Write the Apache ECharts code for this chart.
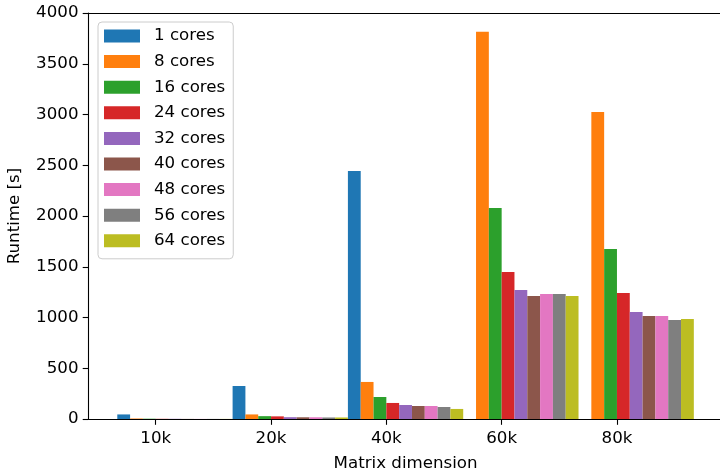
<!DOCTYPE html>
<html>
<head>
<meta charset="utf-8">
<script src="https://cdn.jsdelivr.net/npm/echarts@6/dist/echarts.min.js"></script>
<style>html,body{margin:0;padding:0;background:#fff;overflow:hidden}#c{width:730px;height:470px}</style>
</head>
<body>
<div id="c"></div>
<script>
const categories = ['10k', '20k', '40k', '60k', '80k'];
const coreNames = ['1 cores', '8 cores', '16 cores', '24 cores', '32 cores', '40 cores', '48 cores', '56 cores', '64 cores'];
const colors = ['#1f77b4', '#ff7f0e', '#2ca02c', '#d62728', '#9467bd', '#8c564b', '#e377c2', '#7f7f7f', '#bcbd22'];
const cores1  = [45, 325, 2443, null, null];
const cores8  = [5, 45, 365, 3815, 3025];
const cores16 = [3, 28, 217, 2079, 1675];
const cores24 = [2, 26, 158, 1448, 1241];
const cores32 = [2, 18, 138, 1271, 1054];
const cores40 = [1, 17, 128, 1212, 1015];
const cores48 = [1, 17, 128, 1232, 1015];
const cores56 = [1, 15, 118, 1232, 975];
const cores64 = [1, 15, 99, 1212, 985];
const yTicks = [0, 500, 1000, 1500, 2000, 2500, 3000, 3500, 4000];

const allSeries = [cores1, cores8, cores16, cores24, cores32, cores40, cores48, cores56, cores64];
const FONT = 'DejaVu Sans';
const FS = 16.67;

// frame (matplotlib axes box) and the band layout of the categories inside it
const frameLeft = 88.5, frameWidth = 634.2, frameTop = 13, frameHeight = 406;
const band = frameWidth / 5.5;
const catLeft = frameLeft + (0.583 - 0.5) * band;

const series = [];
// three empty placeholder columns so the group sits as in the original (tick at left edge of 4th bar)
for (let k = 0; k < 3; k++) {
  series.push({ type: 'bar', name: '_pad' + k, data: [], xAxisIndex: 1, yAxisIndex: 1, barWidth: '11.111%', barGap: '0%', silent: true, clip: false });
}
allSeries.forEach((vals, i) => {
  series.push({
    type: 'bar',
    name: coreNames[i],
    xAxisIndex: 1, yAxisIndex: 1,
    barWidth: '11.111%',
    barGap: '0%',
    clip: false,
    itemStyle: { color: colors[i] },
    data: vals.map(v => v == null ? '-' : v)
  });
});

const lab = { fontFamily: FONT, fontSize: FS, color: '#000' };
const spine = { show: true, onZero: false, lineStyle: { color: '#000', width: 1.1 } };
const chart = echarts.init(document.getElementById('c'), null, { renderer: 'canvas' });
chart.setOption({
  animation: false,
  color: colors,
  grid: [
    { left: frameLeft, top: frameTop, width: frameWidth, height: frameHeight, containLabel: false, outerBoundsMode: 'none' },
    { left: catLeft, top: frameTop, width: band * 5, height: frameHeight, containLabel: false, outerBoundsMode: 'none' }
  ],
  legend: {
    data: coreNames,
    orient: 'vertical',
    left: 98, top: 22,
    itemWidth: 36, itemHeight: 13, itemGap: 8.6,
    padding: [5.5, 8, 9.5, 6],
    borderColor: '#cccccc', borderWidth: 1, borderRadius: 4,
    backgroundColor: 'rgba(255,255,255,0.8)',
    icon: 'rect',
    selectedMode: false,
    textStyle: Object.assign({ lineHeight: 17, padding: [0, 0, 0, 9] }, lab)
  },
  xAxis: [
    {
      gridIndex: 0, type: 'value', min: 0, max: 1, position: 'bottom',
      name: 'Matrix dimension', nameLocation: 'middle', nameGap: 36,
      nameTextStyle: Object.assign({ verticalAlign: 'top' }, lab),
      axisLine: spine, axisTick: { show: false }, axisLabel: { show: false }, splitLine: { show: false }
    },
    {
      gridIndex: 1, type: 'category', data: categories, boundaryGap: true,
      axisLine: { show: false },
      axisTick: { show: true, alignWithLabel: true, length: 5.8, lineStyle: { color: '#000', width: 1.1 } },
      axisLabel: Object.assign({ margin: 11 }, lab),
      splitLine: { show: false }
    },
    {
      gridIndex: 0, type: 'value', min: 0, max: 1, position: 'top',
      axisLine: spine, axisTick: { show: false }, axisLabel: { show: false }, splitLine: { show: false }
    }
  ],
  yAxis: [
    {
      gridIndex: 0, type: 'value', min: 0, max: 4000, interval: 500,
      name: 'Runtime [s]', nameLocation: 'middle', nameGap: 65,
      nameTextStyle: lab,
      axisLine: spine,
      axisTick: { show: true, length: 5.8, lineStyle: { color: '#000', width: 1.1 } },
      axisLabel: Object.assign({ margin: 10, formatter: v => String(v) }, lab),
      splitLine: { show: false }
    },
    {
      gridIndex: 1, type: 'value', min: 0, max: 4000, interval: 500, show: false
    }
  ],
  series: series
});
</script>
</body>
</html>
